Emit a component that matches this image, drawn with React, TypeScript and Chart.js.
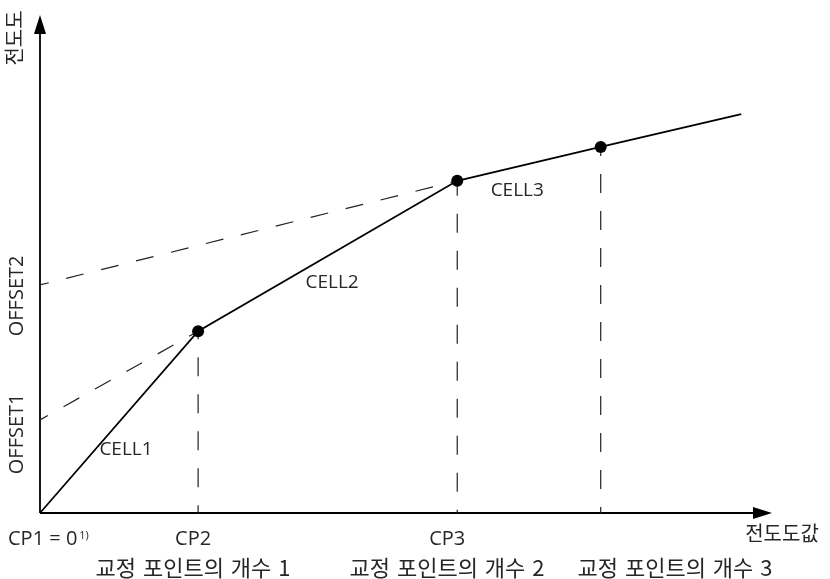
import React, { useEffect, useRef } from 'react';
import { Chart, registerables } from 'chart.js';

Chart.register(...registerables);

// ---- data (value space: x 0..100, y 0..100) ----
const X_MAX = 100;
const Y_MAX = 100;
const curveX = [0, 21.6, 57.0, 76.6, 95.8];
const curveY = [0, 36.5, 66.7, 73.5, 80.1];
const markerIdx = [1, 2, 3];
const offsetY = [18.7, 45.8];
const offsetNames = ['OFFSET1', 'OFFSET2'];
const cellNames = ['CELL1', 'CELL2', 'CELL3'];
const cellAnchorX = [11.75, 39.9, 65.2];
const cellAnchorY = [12.65, 46.2, 64.7];
const cpNames = ['CP1 = 0', 'CP2', 'CP3'];
const cpNote = '1)';
const countNames = ['교정 포인트의 개수 1', '교정 포인트의 개수 2', '교정 포인트의 개수 3'];
const countAnchorX = [20.9, 55.6, 86.75];
const yTitle = '전도도';
const xTitle = '전도도값';

// ---- styling / layout ----
const LATIN = '20px "Open Sans", "Noto Sans CJK KR", sans-serif';
const CELLFONT = '19px "Open Sans", "Noto Sans CJK KR", sans-serif';
const KOREAN = '22px "Noto Sans CJK KR", "Open Sans", sans-serif';
const TITLEFONT = '20px "Noto Sans CJK KR", "Open Sans", sans-serif';
const TEXT = '#262626';

export default function App() {
  const ref = useRef<HTMLCanvasElement>(null);

  useEffect(() => {
    const canvas = ref.current!;
    const overlay = {
      id: 'overlay',
      beforeDatasetsDraw(chart: any) {
        const { ctx } = chart;
        const xs = chart.scales.x;
        const ys = chart.scales.y;
        const x0 = xs.getPixelForValue(0);
        const y0 = ys.getPixelForValue(0);
        const yTop = ys.getPixelForValue(Y_MAX);
        const xRight = xs.getPixelForValue(X_MAX);
        ctx.save();
        ctx.strokeStyle = '#000';
        ctx.fillStyle = '#000';
        ctx.lineWidth = 1.8;
        ctx.beginPath();
        ctx.moveTo(x0, y0);
        ctx.lineTo(x0, yTop + 16);
        ctx.moveTo(x0, y0);
        ctx.lineTo(xRight - 16, y0);
        ctx.stroke();
        ctx.beginPath();
        ctx.moveTo(x0, yTop);
        ctx.lineTo(x0 - 6, yTop + 19);
        ctx.lineTo(x0 + 6, yTop + 19);
        ctx.closePath();
        ctx.fill();
        ctx.beginPath();
        ctx.moveTo(xRight, y0);
        ctx.lineTo(xRight - 19, y0 - 6);
        ctx.lineTo(xRight - 19, y0 + 6);
        ctx.closePath();
        ctx.fill();
        ctx.restore();
      },
      afterDraw(chart: any) {
        const { ctx } = chart;
        const xs = chart.scales.x;
        const ys = chart.scales.y;
        const x0 = xs.getPixelForValue(0);
        const y0 = ys.getPixelForValue(0);
        ctx.save();
        ctx.fillStyle = TEXT;

        // y title (rotated)
        ctx.save();
        ctx.font = TITLEFONT;
        ctx.translate(x0 - 26, ys.getPixelForValue(Y_MAX) + 23);
        ctx.rotate(-Math.PI / 2);
        ctx.textAlign = 'center';
        ctx.textBaseline = 'middle';
        ctx.fillText(yTitle, 0, 0);
        ctx.restore();

        // offsets (rotated)
        const offShift = [14, 11];
        offsetNames.forEach((t, i) => {
          ctx.save();
          ctx.font = LATIN;
          ctx.translate(x0 - 23, ys.getPixelForValue(offsetY[i]) + offShift[i]);
          ctx.rotate(-Math.PI / 2);
          ctx.textAlign = 'center';
          ctx.textBaseline = 'middle';
          ctx.fillText(t, 0, 0);
          ctx.restore();
        });

        // cell labels
        ctx.font = CELLFONT;
        ctx.textAlign = 'center';
        ctx.textBaseline = 'middle';
        cellNames.forEach((t, i) => {
          ctx.fillText(t, xs.getPixelForValue(cellAnchorX[i]), ys.getPixelForValue(cellAnchorY[i]));
        });

        // CP labels
        ctx.font = LATIN;
        ctx.textBaseline = 'alphabetic';
        const base = y0 + 32;
        ctx.textAlign = 'left';
        ctx.fillText(cpNames[0], x0 - 32, base);
        const w = ctx.measureText(cpNames[0]).width;
        ctx.font = '11px "Open Sans", sans-serif';
        ctx.fillText(cpNote, x0 - 32 + w + 2, base - 6);
        ctx.font = LATIN;
        ctx.textAlign = 'center';
        ctx.fillText(cpNames[1], xs.getPixelForValue(curveX[1]) - 5, base);
        ctx.fillText(cpNames[2], xs.getPixelForValue(curveX[2]) - 10, base);

        // x title
        ctx.font = TITLEFONT;
        ctx.textBaseline = 'middle';
        ctx.fillText(xTitle, xs.getPixelForValue(X_MAX) + 10, y0 + 20);

        // count labels
        ctx.font = KOREAN;
        (ctx as any).wordSpacing = '2px';
        countNames.forEach((t, i) => {
          ctx.fillText(t, xs.getPixelForValue(countAnchorX[i]), y0 + 55);
        });
        (ctx as any).wordSpacing = '0px';
        ctx.restore();
      },
    };

    const pts = curveX.map((x, i) => ({ x, y: curveY[i] }));
    const datasets: any[] = [
      {
        data: pts,
        showLine: true,
        borderColor: '#000',
        borderWidth: 1.8,
        pointRadius: pts.map((_, i) => (markerIdx.includes(i) ? 6 : 0)),
        pointBackgroundColor: '#000',
        pointBorderWidth: 0,
        clip: false,
      },
    ];
    offsetY.forEach((oy, i) => {
      datasets.push({
        data: [
          { x: 0, y: oy },
          { x: curveX[i + 1], y: curveY[i + 1] },
        ],
        showLine: true,
        borderColor: '#222',
        borderWidth: 1.2,
        borderDash: [18, 18],
        borderDashOffset: 9,
        pointRadius: 0,
        clip: false,
      });
    });
    const vOffsets = [11, 4, 10];
    markerIdx.forEach((idx, k) => {
      datasets.push({
        data: [
          { x: curveX[idx], y: curveY[idx] },
          { x: curveX[idx], y: 0 },
        ],
        showLine: true,
        borderColor: '#222',
        borderWidth: 1.2,
        borderDash: [19, 18],
        borderDashOffset: vOffsets[k],
        pointRadius: 0,
        clip: false,
      });
    });

    const chart = new Chart(canvas, {
      type: 'scatter',
      data: { datasets },
      options: {
        responsive: false,
        maintainAspectRatio: false,
        animation: false,
        events: [],
        layout: { padding: { left: 40, top: 15, right: 58, bottom: 66 } },
        scales: {
          x: { type: 'linear', min: 0, max: X_MAX, display: false },
          y: { type: 'linear', min: 0, max: Y_MAX, display: false },
        },
        plugins: { legend: { display: false }, tooltip: { enabled: false }, title: { display: false } },
      },
      plugins: [overlay],
    } as any);
    return () => chart.destroy();
  }, []);

  return (
    <div style={{ position: 'fixed', left: 0, top: 0, width: 830, height: 579, background: '#fff' }}>
      <canvas ref={ref} width={830} height={579} style={{ display: 'block', width: 830, height: 579 }} />
    </div>
  );
}
